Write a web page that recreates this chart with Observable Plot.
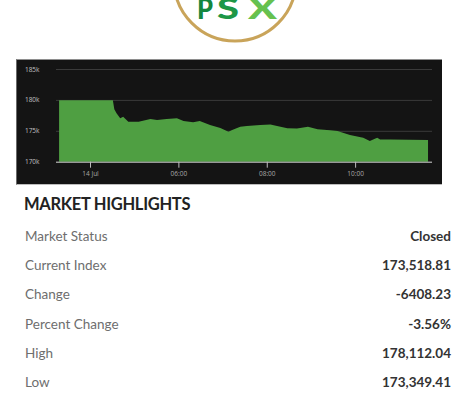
<!DOCTYPE html>
<html>
<head>
<meta charset="utf-8">
<script src="https://cdn.jsdelivr.net/npm/d3@7"></script>
<script src="https://cdn.jsdelivr.net/npm/@observablehq/plot@0.6"></script>
<style>
  html, body { margin: 0; padding: 0; background: #ffffff; }
  body { width: 472px; height: 400px; position: relative; overflow: hidden; font-family: Lato, "Open Sans", sans-serif; }
  #logo { position: absolute; left: 0; top: 0; }
  #panel { position: absolute; left: 16px; top: 59px; width: 426px; height: 126px; background: #141414; box-sizing: border-box; border-top: 1px solid #8e8e8e; border-left: 1px solid #6a6a6a; border-bottom: 1px solid #bdbdbd; }
  #chart { position: absolute; left: 17px; top: 60px; }
  #title { position: absolute; left: 24px; top: 193.5px; font-size: 16.5px; font-weight: 700; color: #222; letter-spacing: -0.3px; }
  .row { position: absolute; left: 25px; width: 426px; font-size: 13.5px; }
  .row .k { position: absolute; left: 0; color: #6e6e6e; }
  .row .v { position: absolute; right: 0; color: #333; font-weight: 700; }
</style>
</head>
<body>
<svg id="logo" width="472" height="60">
  <circle cx="235" cy="-20" r="61" fill="none" stroke="#c9a45a" stroke-width="3"/>
  <text x="197" y="19" font-family="Lato" font-weight="900" font-size="29" fill="#14873f" textLength="16" lengthAdjust="spacingAndGlyphs">P</text>
  <text x="217" y="19" font-family="Lato" font-weight="900" font-size="29" fill="#1d9747" textLength="22" lengthAdjust="spacingAndGlyphs">S</text>
  <text x="248" y="19" font-family="Lato" font-weight="900" font-size="29" fill="#66c14f" textLength="29" lengthAdjust="spacingAndGlyphs">X</text>
</svg>
<div id="panel"></div>
<div id="chart"></div>
<div id="title">MARKET HIGHLIGHTS</div>
<div id="rows"></div>
<script>
const times = ["03:18","04:31","04:33","04:36","04:41","04:45","04:52","05:06","05:22","05:31","05:44","05:58","06:07","06:20","06:29","06:43","06:57","07:08","07:13","07:24","07:33","07:51","08:05","08:14","08:28","08:41","08:56","09:09","09:26","09:36","09:53","10:11","10:20","10:26","10:30","10:34","10:48","11:39"];
const values = [179927,179927,178500,177830,177020,177280,176470,176470,176910,176750,176910,177020,176590,176380,176590,175940,175450,174850,175130,175660,175780,175940,176020,175780,175400,175370,175660,175240,175080,174970,174320,173880,173349,173670,173880,173600,173590,173518.81];
const yTicks = [170000, 175000, 180000, 185000];
const yTickLabels = ["170k", "175k", "180k", "185k"];
const xTicks = [4, 6, 8, 10];
const xTickLabels = ["14 Jul", "06:00", "08:00", "10:00"];
const rowLabels = ["Market Status", "Current Index", "Change", "Percent Change", "High", "Low"];
const rowValues = ["Closed", "173,518.81", "-6408.23", "-3.56%", "178,112.04", "173,349.41"];

const toHours = s => { const [h, m] = s.split(":").map(Number); return h + m / 60; };
const data = times.map((t, i) => ({t: toHours(t), v: values[i]}));

const chart = Plot.plot({
  width: 424,
  height: 124,
  marginLeft: 39,
  marginRight: 9,
  marginTop: 9,
  marginBottom: 22.3,
  style: {background: "transparent", color: "#bdbdbd", fontSize: "6.5px", fontFamily: "'Open Sans', sans-serif"},
  x: {domain: [3.23, 11.74], label: null},
  y: {domain: [170000, 185000], label: null},
  marks: [
    Plot.gridY(yTicks, {stroke: "#3a3a3a", strokeOpacity: 1}),
    Plot.areaY(data, {x: "t", y1: 170000, y2: "v", fill: "#4f9f42", curve: "linear"}),
    Plot.ruleY([170000], {stroke: "#c8c8c8"}),
    Plot.axisY(yTicks, {tickSize: 0, tickPadding: 17, tickFormat: (d, i) => yTickLabels[i], fill: "#c0c0c0", label: null}),
    Plot.axisX(xTicks, {tickSize: 6, tickPadding: 3, stroke: "#bdbdbd", tickFormat: (d, i) => xTickLabels[i], fill: "#a8a8a8", label: null})
  ]
});
document.getElementById("chart").appendChild(chart);

const rows = document.getElementById("rows");
const baseTop = 228;
const step = 29.2;
rowLabels.forEach((k, i) => {
  const r = document.createElement("div");
  r.className = "row";
  r.style.top = (baseTop + i * step) + "px";
  r.innerHTML = `<span class="k">${k}</span><span class="v">${rowValues[i]}</span>`;
  rows.appendChild(r);
});
</script>
</body>
</html>
